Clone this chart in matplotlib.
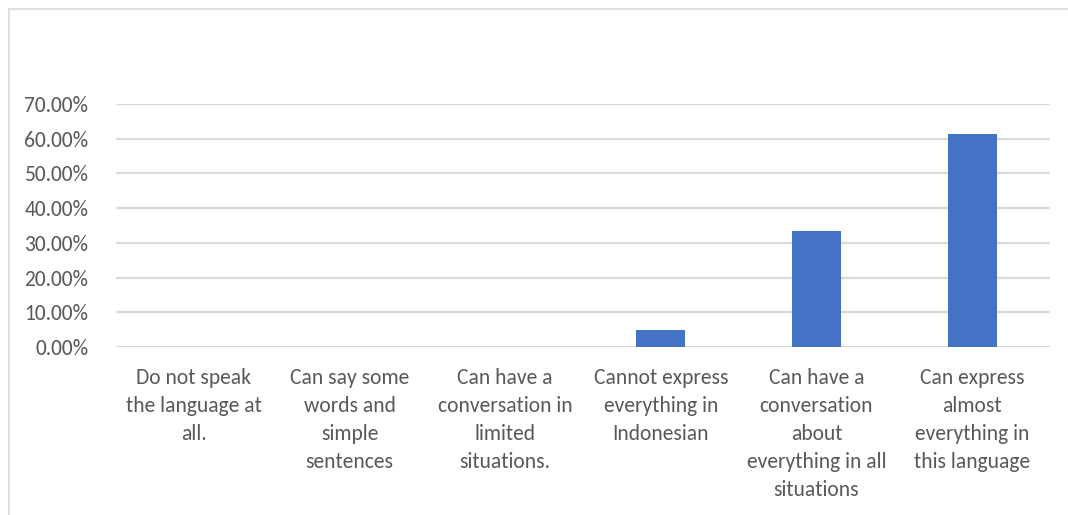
import matplotlib
matplotlib.use("Agg")
import matplotlib.pyplot as plt
from matplotlib.lines import Line2D
from matplotlib.ticker import FuncFormatter
from matplotlib import font_manager

categories = [
    "Do not speak\nthe language at\nall.",
    "Can say some\nwords and\nsimple\nsentences",
    "Can have a\nconversation in\nlimited\nsituations.",
    "Cannot express\neverything in\nIndonesian",
    "Can have a\nconversation\nabout\neverything in all\nsituations",
    "Can express\nalmost\neverything in\nthis language",
]
values = [0.0, 0.0, 0.0, 0.048, 0.335, 0.615]
yticks = [0.0, 0.1, 0.2, 0.3, 0.4, 0.5, 0.6, 0.7]

names = {f.name for f in font_manager.fontManager.ttflist}
family = "Carlito" if "Carlito" in names else "Lato"
plt.rcParams["font.family"] = [family, "DejaVu Sans"]

W, H = 1068, 515
fig = plt.figure(figsize=(W / 100, H / 100), dpi=100)
ax = fig.add_axes([116 / W, 1 - 347 / H, (1050 - 116) / W, (347 - 104) / H])

x = list(range(len(categories)))
ax.bar(x, values, width=0.313, color="#4472C4", zorder=3)
ax.set_xlim(-0.5, len(categories) - 0.5)
ax.set_ylim(0, 0.7)
ax.set_yticks(yticks)
ax.yaxis.set_major_formatter(FuncFormatter(lambda v, p: f"{v*100:.2f}%"))
ax.set_xticks(x)
ax.set_xticklabels(categories, linespacing=1.5)
ax.grid(axis="y", color="#d9d9d9", linewidth=1.6, zorder=0)
for s in ax.spines.values():
    s.set_visible(False)
ax.tick_params(axis="both", length=0, colors="#595959", labelsize=15.5)
ax.tick_params(axis="y", pad=20)
ax.tick_params(axis="x", pad=15)

# outer chart frame (only left and top edges visible)
fig.add_artist(Line2D([8.5 / W, 8.5 / W], [0, 1 - 9 / H], transform=fig.transFigure,
                      color="#d9d9d9", linewidth=1.2))
fig.add_artist(Line2D([8.5 / W, 1], [1 - 9 / H, 1 - 9 / H], transform=fig.transFigure,
                      color="#d9d9d9", linewidth=1.2))

fig.savefig("out.png", dpi=100, facecolor="white")
